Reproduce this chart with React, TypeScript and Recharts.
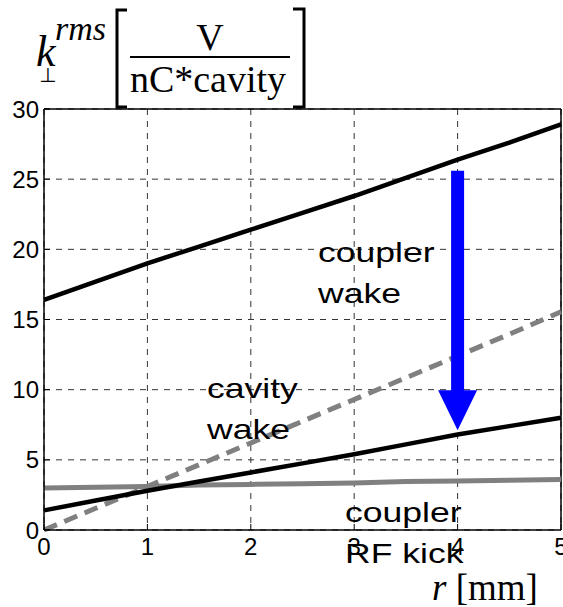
import React from "react";
import {
  LineChart,
  Line,
  XAxis,
  YAxis,
  CartesianGrid,
  ReferenceLine,
} from "recharts";

// r [mm]
const radius = [0, 0.5, 1, 1.5, 2, 2.5, 3, 3.5, 4, 4.5, 5];
// k_perp rms [V / nC*cavity]
const couplerWake = [16.4, 17.7, 19.0, 20.2, 21.4, 22.6, 23.8, 25.1, 26.4, 27.6, 28.9];
const cavityWake = [0, 1.55, 3.1, 4.65, 6.2, 7.75, 9.3, 10.85, 12.4, 13.95, 15.55];
const totalKick = [1.4, 2.1, 2.8, 3.45, 4.1, 4.75, 5.4, 6.1, 6.8, 7.4, 8.0];
const couplerRfKick = [3.0, 3.05, 3.1, 3.2, 3.25, 3.3, 3.35, 3.45, 3.5, 3.55, 3.6];

const xTicks = [0, 1, 2, 3, 4, 5];
const yTicks = [0, 5, 10, 15, 20, 25, 30];

// arrow from coupler wake down to the total
const arrowX = 4;
const arrowFrom = 25.6;
const arrowTo = 7.1;

const data = radius.map((r, i) => ({
  r,
  couplerWake: couplerWake[i],
  cavityWake: cavityWake[i],
  totalKick: totalKick[i],
  couplerRfKick: couplerRfKick[i],
}));

const SANS = "'Liberation Sans', Arial, sans-serif";
const SERIF = "'Liberation Serif', 'Times New Roman', serif";

// tick label + small inward tick mark (matlab style)
function XTick(props: any) {
  const { x, y, payload } = props;
  return (
    <g>
      <line x1={x} x2={x} y1={y - 8} y2={y - 14} stroke="#000" strokeWidth={1} />
      <text x={x} y={y} dy="0.71em" textAnchor="middle" fontFamily={SANS} fontSize={24} fill="#000">
        {payload.value}
      </text>
    </g>
  );
}

function YTick(props: any) {
  const { x, y, payload } = props;
  return (
    <g>
      <line x1={x + 5} x2={x + 11} y1={y} y2={y} stroke="#000" strokeWidth={1} />
      <text x={x} y={y} dy="0.355em" textAnchor="end" fontFamily={SANS} fontSize={24} fill="#000">
        {payload.value}
      </text>
    </g>
  );
}

function Arrow(props: any) {
  const { x1, y1, x2, y2 } = props;
  if (x1 == null || y1 == null || y2 == null) return null;
  const x = (x1 + x2) / 2;
  const shaft = 6.5;
  const head = 19.5;
  const headH = 40;
  const d = `M${x - shaft},${y1} L${x + shaft},${y1} L${x + shaft},${y2 - headH} L${x + head},${y2 - headH} L${x},${y2} L${x - head},${y2 - headH} L${x - shaft},${y2 - headH} Z`;
  return <path d={d} fill="#0000ff" stroke="none" />;
}

function Note({ x, y, lines }: { x: number; y: number; lines: string[] }) {
  return (
    <g transform={`translate(${x},${y}) scale(1.27,1)`}>
      {lines.map((t, i) => (
        <text key={t} x={0} y={i * 41} fontFamily={SANS} fontSize={28} fill="#000">
          {t}
        </text>
      ))}
    </g>
  );
}

export default function App() {
  return (
    <div style={{ position: "absolute", left: 0, top: 0, width: 563, height: 607, background: "#fff" }}>
      <LineChart
        width={563}
        height={607}
        data={data}
        margin={{ top: 109, right: 2, bottom: 0, left: 0 }}
      >
        <CartesianGrid stroke="#333" strokeDasharray="6 6" strokeWidth={1} />
        <XAxis
          dataKey="r"
          type="number"
          domain={[0, 5]}
          ticks={xTicks}
          height={77}
          tick={<XTick />}
          tickLine={false}
          tickSize={0}
          tickMargin={8}
          axisLine={{ stroke: "#000", strokeWidth: 1.5 }}
          interval={0}
        />
        <YAxis
          type="number"
          domain={[0, 30]}
          ticks={yTicks}
          width={44}
          tick={<YTick />}
          tickLine={false}
          tickSize={0}
          tickMargin={5}
          axisLine={{ stroke: "#000", strokeWidth: 1.5 }}
          interval={0}
        />
        <ReferenceLine y={30} stroke="#000" strokeWidth={1.5} />
        <ReferenceLine x={5} stroke="#000" strokeWidth={1.5} />
        <Line
          dataKey="couplerRfKick"
          stroke="#808080"
          strokeWidth={5}
          dot={false}
          isAnimationActive={false}
        />
        <Line
          dataKey="cavityWake"
          stroke="#808080"
          strokeWidth={5}
          strokeDasharray="14 8"
          dot={false}
          isAnimationActive={false}
        />
        <Line
          dataKey="couplerWake"
          stroke="#000"
          strokeWidth={4.5}
          dot={false}
          isAnimationActive={false}
        />
        <Line
          dataKey="totalKick"
          stroke="#000"
          strokeWidth={4.5}
          dot={false}
          isAnimationActive={false}
        />
        <ReferenceLine
          segment={[
            { x: arrowX, y: arrowFrom },
            { x: arrowX, y: arrowTo },
          ]}
          shape={(p: any) => <Arrow {...p} />}
        />
      </LineChart>
      <svg
        width={563}
        height={607}
        style={{ position: "absolute", left: 0, top: 0, pointerEvents: "none" }}
      >
        <Note x={318} y={262} lines={["coupler", "wake"]} />
        <Note x={207} y={398} lines={["cavity", "wake"]} />
        <Note x={345} y={522} lines={["coupler", "RF kick"]} />

        {/* y axis title */}
        <text x={36} y={66} fontFamily={SERIF} fontStyle="italic" fontSize={44} fill="#000">k</text>
        <text x={55} y={40} fontFamily={SERIF} fontStyle="italic" fontSize={34} fill="#000">rms</text>
        <text x={39} y={82} fontFamily="'DejaVu Sans', sans-serif" fontSize={20} fill="#000">⊥</text>
        <path d="M127,10 H117 V107 H127" fill="none" stroke="#000" strokeWidth={3} />
        <path d="M293,9 H304 V107 H293" fill="none" stroke="#000" strokeWidth={3} />
        <text x={210} y={50} textAnchor="middle" fontFamily={SERIF} fontSize={38} fill="#000">V</text>
        <line x1={130} x2={290} y1={57} y2={57} stroke="#000" strokeWidth={2} />
        <text x={208} y={92} textAnchor="middle" fontFamily={SERIF} fontSize={38} fill="#000">nC*cavity</text>

        {/* x axis title */}
        <text x={432} y={600} fontFamily={SERIF} fontSize={37} fill="#000">
          <tspan fontStyle="italic">r</tspan> [mm]
        </text>
      </svg>
    </div>
  );
}
